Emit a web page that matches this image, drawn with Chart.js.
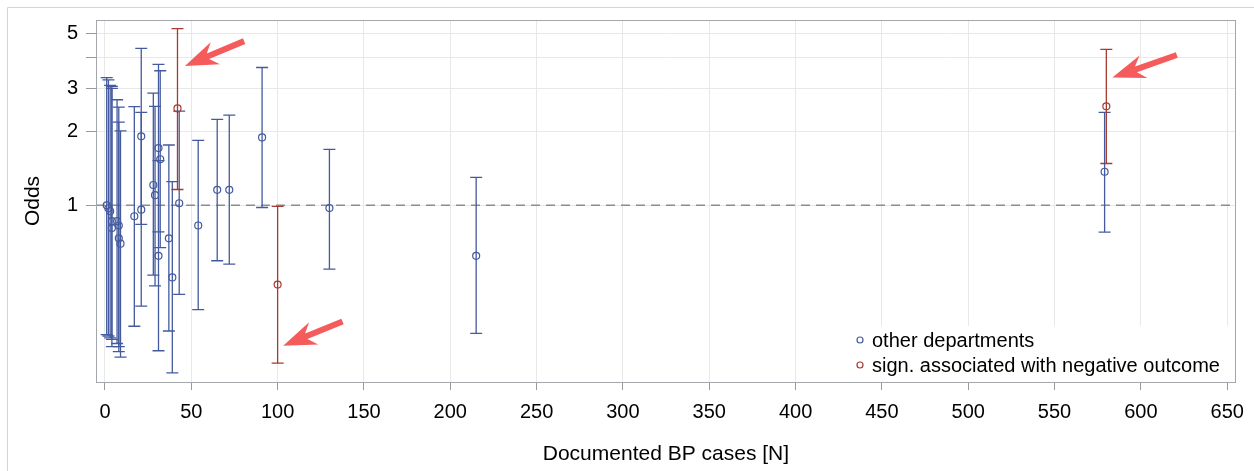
<!DOCTYPE html>
<html>
<head>
<meta charset="utf-8">
<script src="https://cdn.jsdelivr.net/npm/chart.js@4.4.0/dist/chart.umd.min.js"></script>
<style>
  body { margin: 0; background: #fff; }
  #wrap { width: 1254px; height: 471px; }
</style>
</head>
<body>
<div id="wrap"><canvas id="chart" width="1254" height="471"></canvas></div>
<script>
// other departments: cases, odds, lower / upper CI
const otherN    = [1, 2, 3, 4, 4, 7, 8, 8, 9, 17, 21, 21, 28, 29, 31, 32, 31, 37, 39, 43, 54, 65, 72, 91, 130, 215, 579];
const otherOdds = [1.00, 0.973, 0.946, 0.862, 0.808, 0.862, 0.828, 0.734, 0.698, 0.903, 1.91, 0.96, 1.21, 1.10, 1.71, 1.54, 0.623, 0.734, 0.509, 1.02, 0.828, 1.157, 1.157, 1.89, 0.975, 0.623, 1.37];
const otherLow  = [0.298, 0.294, 0.289, 0.285, 0.266, 0.274, 0.266, 0.254, 0.241, 0.322, 0.836, 0.389, 0.52, 0.47, 0.78, 0.673, 0.256, 0.308, 0.208, 0.434, 0.376, 0.595, 0.576, 0.98, 0.55, 0.301, 0.778];
const otherHigh = [3.31, 3.24, 3.08, 3.05, 2.99, 2.69, 2.51, 2.18, 2.01, 2.52, 4.35, 2.39, 2.86, 2.53, 3.75, 3.53, 1.52, 1.76, 1.25, 2.42, 1.84, 2.24, 2.33, 3.64, 1.69, 1.30, 2.39];

// departments significantly associated with negative outcome
const signN    = [42, 100, 580];
const signOdds = [2.48, 0.476, 2.53];
const signLow  = [1.16, 0.228, 1.48];
const signHigh = [5.24, 0.99, 4.31];

const xTicks = [0, 50, 100, 150, 200, 250, 300, 350, 400, 450, 500, 550, 600, 650];
const yTicks = [1, 2, 3, 4, 5];
const yTickLabels = ['1', '2', '3', '', '5'];
const refOdds = 1;

// red arrows (data units): tail -> tip
const arrowTail = [{x: 80.6, y: 4.66}, {x: 137.6, y: 0.337}, {x: 620.8, y: 4.09}];
const arrowTip  = [{x: 46.3, y: 3.69}, {x: 103.2, y: 0.268}, {x: 583.5, y: 3.31}];

const BLUE = '#445a9e';
const RED = '#a53b31';
const FONT = "'Liberation Sans', Arial, sans-serif";

// error bars + dashed reference line
const errorBars = {
  id: 'errorBars',
  beforeDatasetsDraw(chart) {
    const { ctx, chartArea, scales: { x, y } } = chart;
    ctx.save();
    ctx.strokeStyle = '#8c8c8c';
    ctx.lineWidth = 1.5;
    ctx.setLineDash([9, 6]);
    const yr = y.getPixelForValue(refOdds);
    ctx.beginPath();
    ctx.moveTo(chartArea.left, yr);
    ctx.lineTo(chartArea.right, yr);
    ctx.stroke();
    ctx.setLineDash([]);

    chart.data.datasets.forEach(ds => {
      ctx.strokeStyle = ds.borderColor;
      ctx.lineWidth = 1.3;
      ds.data.forEach((p, i) => {
        const px = x.getPixelForValue(p.x);
        const lo = y.getPixelForValue(ds.low[i]);
        const hi = y.getPixelForValue(ds.high[i]);
        ctx.beginPath();
        ctx.moveTo(px, lo);
        ctx.lineTo(px, hi);
        ctx.moveTo(px - 6, lo);
        ctx.lineTo(px + 6, lo);
        ctx.moveTo(px - 6, hi);
        ctx.lineTo(px + 6, hi);
        ctx.stroke();
      });
    });
    ctx.restore();
  },
  afterDatasetsDraw(chart) {
    const { ctx, chartArea, scales: { x, y } } = chart;
    ctx.save();
    // arrows
    ctx.fillStyle = '#f65b5b';
    arrowTip.forEach((t, i) => {
      const tx = x.getPixelForValue(t.x), ty = y.getPixelForValue(t.y);
      const sx = x.getPixelForValue(arrowTail[i].x), sy = y.getPixelForValue(arrowTail[i].y);
      const ang = Math.atan2(sy - ty, sx - tx);
      const len = Math.hypot(sx - tx, sy - ty);
      ctx.save();
      ctx.translate(tx, ty);
      ctx.rotate(ang);
      ctx.beginPath();
      ctx.moveTo(0, 0);
      ctx.lineTo(33, -12);
      ctx.lineTo(25, -3);
      ctx.lineTo(len, -3);
      ctx.lineTo(len, 3);
      ctx.lineTo(25, 3);
      ctx.lineTo(33, 12);
      ctx.closePath();
      ctx.fill();
      ctx.restore();
    });

    // legend inside the plot, bottom right
    const lx = 850, ly = 326;
    ctx.fillStyle = '#fff';
    ctx.fillRect(lx, ly, chartArea.right - lx, chartArea.bottom - ly);
    ctx.font = '20px ' + FONT;
    ctx.textBaseline = 'middle';
    ctx.textAlign = 'left';
    chart.data.datasets.forEach((ds, i) => {
      const cy = 340 + i * 25;
      ctx.strokeStyle = ds.borderColor;
      ctx.lineWidth = 1.2;
      ctx.beginPath();
      ctx.arc(860, cy, 3, 0, Math.PI * 2);
      ctx.stroke();
      ctx.fillStyle = '#000';
      ctx.fillText(ds.label, 872, cy + 1);
    });

    // plot frame
    ctx.strokeStyle = '#a3a7ab';
    ctx.lineWidth = 1;
    ctx.strokeRect(Math.round(chartArea.left) + 0.5, Math.round(chartArea.top) + 0.5,
      Math.round(chartArea.width) - 1, Math.round(chartArea.height));
    ctx.restore();
  },
  beforeDraw(chart) {
    const { ctx } = chart;
    ctx.save();
    ctx.fillStyle = '#fff';
    ctx.fillRect(0, 0, chart.width, chart.height);
    ctx.strokeStyle = '#d4d4d4';
    ctx.lineWidth = 1;
    ctx.beginPath();
    ctx.moveTo(7.5, chart.height);
    ctx.lineTo(7.5, 7.5);
    ctx.lineTo(chart.width, 7.5);
    ctx.stroke();
    ctx.restore();
  }
};

new Chart(document.getElementById('chart'), {
  type: 'scatter',
  data: {
    datasets: [
      {
        label: 'other departments',
        data: otherN.map((n, i) => ({ x: n, y: otherOdds[i] })),
        low: otherLow,
        high: otherHigh,
        borderColor: BLUE,
        backgroundColor: 'rgba(0,0,0,0)',
        pointRadius: 3.5,
        borderWidth: 1.2
      },
      {
        label: 'sign. associated with negative outcome',
        data: signN.map((n, i) => ({ x: n, y: signOdds[i] })),
        low: signLow,
        high: signHigh,
        borderColor: RED,
        backgroundColor: 'rgba(0,0,0,0)',
        pointRadius: 3.5,
        borderWidth: 1.2
      }
    ]
  },
  options: {
    responsive: false,
    animation: false,
    layout: { padding: { left: 0, top: 17, right: 17, bottom: 0 } },
    plugins: { legend: { display: false }, tooltip: { enabled: false } },
    scales: {
      x: {
        type: 'linear',
        min: -5.2,
        max: 655,
        afterBuildTicks: s => { s.ticks = xTicks.map(v => ({ value: v })); },
        afterFit: s => { s.height = 89; },
        grid: { color: '#e8e8e8', tickColor: '#9a9a9a', tickLength: 8 },
        border: { display: false },
        ticks: { color: '#000', font: { family: FONT, size: 20 }, padding: 10, maxRotation: 0, autoSkip: false },
        title: { display: true, text: 'Documented BP cases [N]', color: '#000', font: { family: FONT, size: 21 }, padding: { top: 6 } }
      },
      y: {
        type: 'logarithmic',
        min: 0.191,
        max: 5.68,
        afterBuildTicks: s => { s.ticks = yTicks.map(v => ({ value: v })); },
        afterFit: s => { s.width = 96; },
        grid: { color: '#e8e8e8', tickColor: '#9a9a9a', tickLength: 10 },
        border: { display: false },
        ticks: { color: '#000', font: { family: FONT, size: 20 }, padding: 8, autoSkip: false,
          callback: (v, i) => yTickLabels[i] },
        title: { display: true, text: 'Odds', color: '#000', font: { family: FONT, size: 21 }, padding: { top: 21, bottom: 0 } }
      }
    }
  },
  plugins: [errorBars]
});
</script>
</body>
</html>
